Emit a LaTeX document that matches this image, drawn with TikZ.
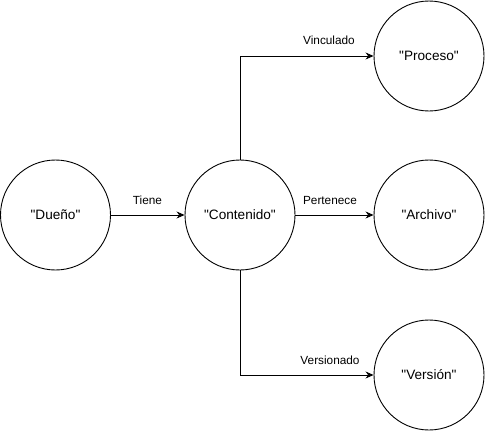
\documentclass[tikz,border=0pt]{standalone}
\usepackage{fontspec}
\setmainfont{Liberation Sans}
\usetikzlibrary{arrows.meta}
\begin{document}
\begin{tikzpicture}[x=1pt,y=-1pt,
  ent/.style={draw, circle, minimum size=110pt, inner sep=0pt, line width=0.9pt, font=\fontsize{13.6}{16}\selectfont},
  rel/.style={draw, line width=0.9pt, -{Stealth[length=8pt,width=7pt]}},
  lbl/.style={font=\fontsize{11.8}{14}\selectfont}]
\useasboundingbox (0,0) rectangle (485,431);
\node[ent] (d) at (55.5,215) {\textquotedbl Dueño\textquotedbl};
\node[ent] (c) at (240,215) {\textquotedbl Contenido\textquotedbl};
\node[ent] (p) at (429,56) {\textquotedbl Proceso\textquotedbl};
\node[ent] (a) at (429,215) {\textquotedbl Archivo\textquotedbl};
\node[ent] (v) at (429,375) {\textquotedbl Versión\textquotedbl};
\draw[rel] (d) -- (c);
\draw[rel] (c) -- (a);
\draw[rel] (c.north) |- (p.west);
\draw[rel] (c.south) |- (v.west);
\node[lbl] (l1) at (147.5,200) {Tiene};
\node[lbl] (l2) at (329,40) {Vinculado};
\node[lbl] (l3) at (330,200) {Pertenece};
\node[lbl] (l4) at (330,360) {Versionado};
\end{tikzpicture}
\end{document}
